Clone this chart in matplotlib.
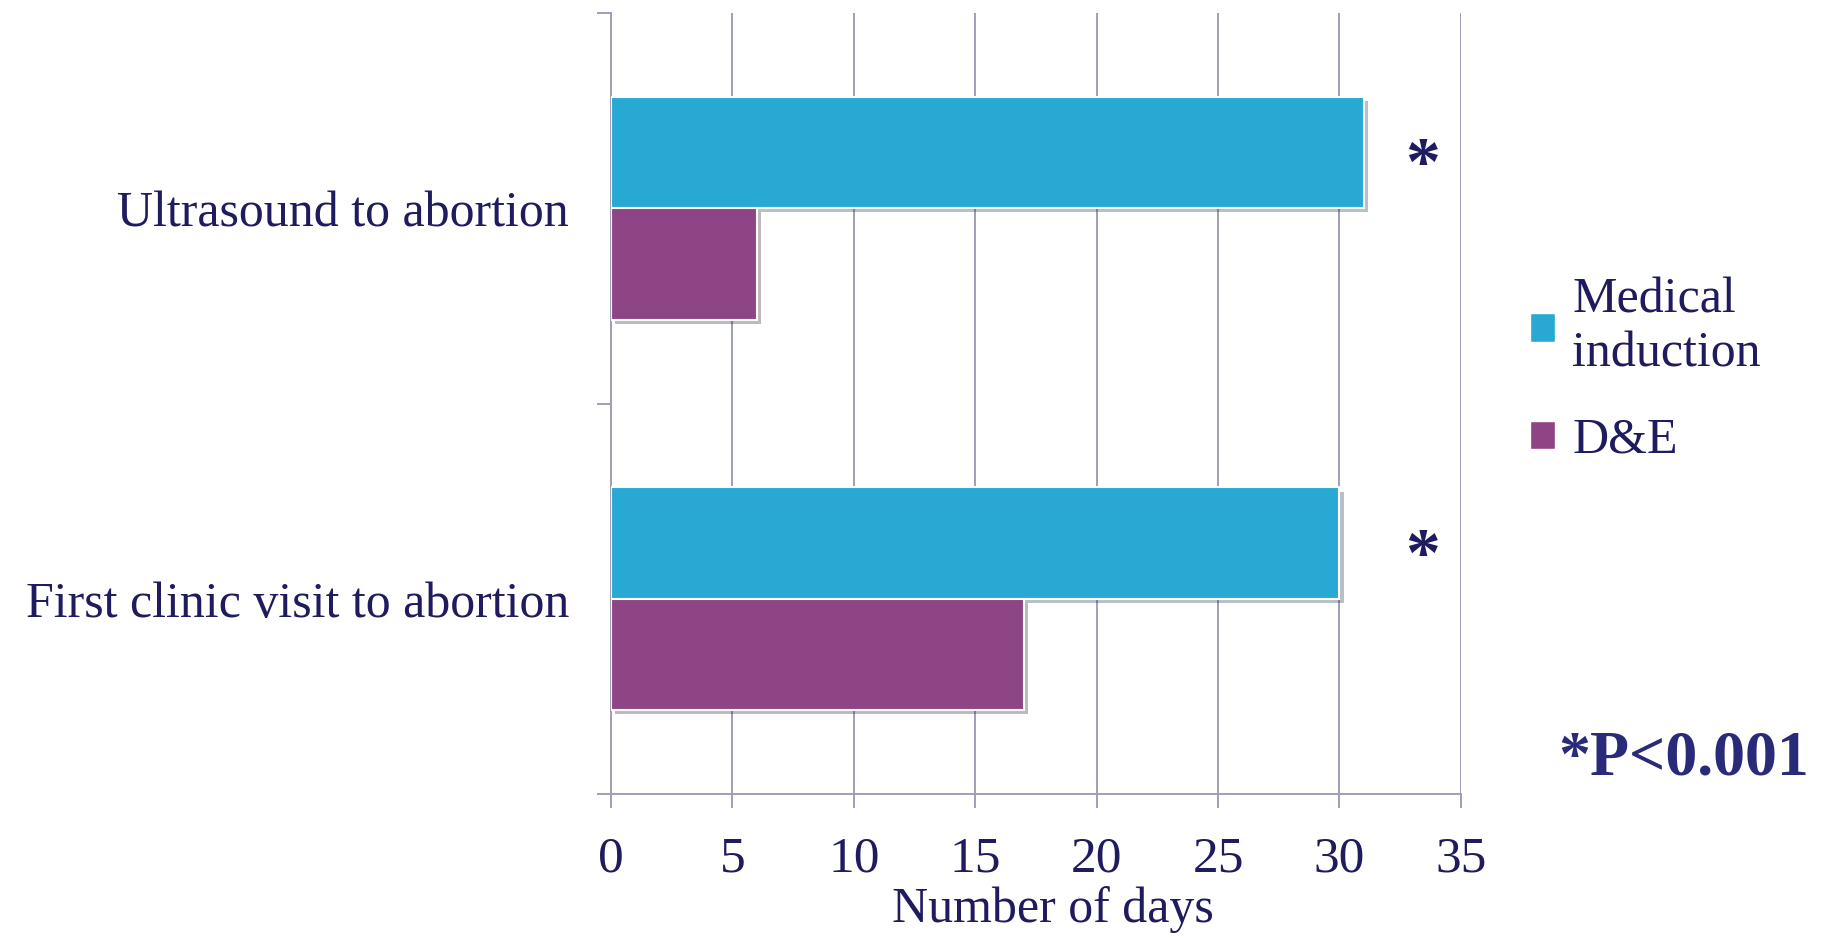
import matplotlib.pyplot as plt
import matplotlib.patheffects as pe
from matplotlib.patches import Patch
import numpy as np

# data
categories = ["First clinic visit to abortion", "Ultrasound to abortion"]
medical = [30, 31]
dne = [17, 6]
series_names = ["Medical\ninduction", "D&E"]
xticks = [0, 5, 10, 15, 20, 25, 30, 35]

navy = "#1e1b5e"
gridc = "#a19db5"
blue = "#27a9d4"
purple = "#8e4585"

plt.rcParams['font.family'] = ['Liberation Serif', 'DejaVu Serif']

fig = plt.figure(figsize=(18.22, 9.38), dpi=100)
ax = fig.add_axes([0.3353, 0.1535, 0.4665, 0.8326])

y = np.arange(len(categories))
h = 0.285
shadow = [pe.SimplePatchShadow(offset=(3, -3), alpha=0.3), pe.Normal()]
b1 = ax.barh(y + h/2, medical, height=h, color=blue, edgecolor="white", linewidth=1.5, zorder=3)
b2 = ax.barh(y - h/2, dne, height=h, color=purple, edgecolor="white", linewidth=1.5, zorder=3)
for b in list(b1) + list(b2):
    b.set_path_effects(shadow)

# significance stars next to the medical bars
for yy in y:
    ax.text(33.4, yy + h/2 - 0.04, "*", fontsize=50, fontweight="bold", color=navy,
            ha="center", va="center", zorder=4)

ax.set_xlim(0, 35)
ax.set_ylim(-0.5, 1.5)
ax.set_xticks(xticks)
ax.set_xticklabels([str(t) for t in xticks], fontsize=37, color=navy)
ax.set_yticks([-0.5, 0.5, 1.5])
ax.set_yticklabels([])
ax.set_yticks(y, minor=True)
ax.set_yticklabels(categories, minor=True, fontsize=36, color=navy)
ax.tick_params(axis="y", which="minor", length=0, pad=30)
ax.tick_params(axis="y", which="major", length=10, width=1.4, color=gridc, direction="out")
ax.tick_params(axis="x", length=10, width=1.4, color=gridc, direction="out", pad=20)

ax.grid(axis="x", color=gridc, linewidth=1.4, zorder=0)
ax.set_axisbelow(True)
for s in ["top", "right"]:
    ax.spines[s].set_visible(False)
for s in ["left", "bottom"]:
    ax.spines[s].set_color(gridc)
    ax.spines[s].set_linewidth(1.4)

ax.set_xlabel("Number of days", fontsize=36, color=navy, labelpad=3)
ax.xaxis.label.set_x(0.52)

handles = [Patch(facecolor=blue, edgecolor="white"), Patch(facecolor=purple, edgecolor="white")]
fig.legend(handles, series_names, loc="center left", bbox_to_anchor=(0.815, 0.605),
           frameon=False, fontsize=36, labelcolor=navy, handlelength=0.5, handleheight=0.5,
           handletextpad=0.35, labelspacing=0.8)

fig.text(0.993, 0.19, "*P<0.001", fontsize=46, fontweight="bold", color="#2a2a7a",
         ha="right", va="center")

fig.savefig("out.png", dpi=100)
